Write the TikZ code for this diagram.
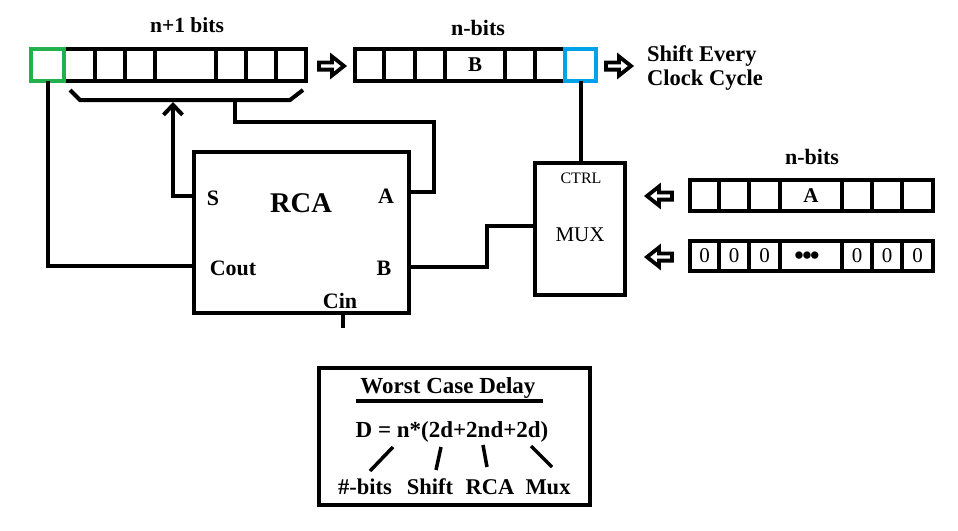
\documentclass[tikz,border=0pt]{standalone}
\usepackage{fontspec}
\setmainfont{Liberation Serif}
\usetikzlibrary{arrows.meta}
\definecolor{pgreen}{RGB}{34,177,76}
\definecolor{pblue}{RGB}{0,162,232}
\tikzset{
  cell/.style={draw, line width=4pt, minimum width=#1, inner sep=0pt, outer sep=0pt,
    font=\fontsize{21}{21}\selectfont},
  hrow/.style={minimum height=32pt},
  blk/.style={draw, line width=4pt, inner sep=0pt, outer sep=0pt},
  lbl/.style={inner sep=0pt, font=\fontsize{#1}{#1}\selectfont\bfseries},
  rlbl/.style={inner sep=0pt, font=\fontsize{#1}{#1}\selectfont},
  wire/.style={line width=4pt},
  thin/.style={line width=3.5pt},
  harrow/.pic={\draw[line width=3.8pt, fill=white, line join=miter, miter limit=10]
    (0,-3.6) -- (13,-3.6) -- (13,-9.5) -- (25,0) -- (13,9.5) -- (13,3.6) -- (0,3.6) -- cycle;}
}
\begin{document}
\begin{tikzpicture}[x=1pt,y=-1pt]
\useasboundingbox (0,0) rectangle (958,530);
% n+1 bit register
\node[cell=31pt,hrow] (r1) at (79.5,65) {};
\node[cell=30pt,hrow] (r2) at (110,65) {};
\node[cell=30pt,hrow] (r3) at (140,65) {};
\node[cell=61pt,hrow] (r4) at (185.5,65) {};
\node[cell=30pt,hrow] (r5) at (231,65) {};
\node[cell=30pt,hrow] (r6) at (261,65) {};
\node[cell=30pt,hrow] (r7) at (291,65) {};
\node[cell=33pt,hrow,draw=pgreen] (g) at (47.5,65) {};
\node[lbl=21.5] (t1) at (187,25) {n+1 bits};
% B register
\node[cell=29pt,hrow] (b1) at (369.5,65) {};
\node[cell=31pt,hrow] (b2) at (399.5,65) {};
\node[cell=30pt,hrow] (b3) at (430,65) {};
\node[cell=60pt,hrow,font=\fontsize{21}{21}\selectfont\bfseries] (b4) at (475,65) {B};
\node[cell=30pt,hrow] (b5) at (520,65) {};
\node[cell=30pt,hrow] (b6) at (550,65) {};
\node[cell=31pt,hrow,draw=pblue] (bb) at (580.5,65) {};
\node[lbl=22] (t2) at (478,28) {n-bits};
% shift arrows and text
\pic at (319,66) {harrow};
\pic at (606,66) {harrow};
\node[lbl=22.5,anchor=base west] (sh1) at (647,61) {Shift Every};
\node[lbl=22.5,anchor=base west] (sh2) at (647,85) {Clock Cycle};
% A register
\node[cell=29pt,minimum height=31pt] (a1) at (704.5,195.5) {};
\node[cell=30pt,minimum height=31pt] (a2) at (734,195.5) {};
\node[cell=31pt,minimum height=31pt] (a3) at (764.5,195.5) {};
\node[cell=62pt,minimum height=31pt,font=\fontsize{21}{21}\selectfont\bfseries] (a4) at (811,195.5) {A};
\node[cell=30pt,minimum height=31pt] (a5) at (857,195.5) {};
\node[cell=30pt,minimum height=31pt] (a6) at (887,195.5) {};
\node[cell=31pt,minimum height=31pt] (a7) at (917.5,195.5) {};
\node[lbl=22] (t3) at (812,157) {n-bits};
% zero register
\node[cell=29pt,minimum height=30pt] (z1) at (704.5,256) {0};
\node[cell=30pt,minimum height=30pt] (z2) at (734,256) {0};
\node[cell=31pt,minimum height=30pt] (z3) at (764.5,256) {0};
\node[cell=62pt,minimum height=30pt,font=\fontsize{27}{27}\selectfont\bfseries] (z4) at (811,256) {\smash{\raisebox{-8pt}{•\kern-1.5pt•\kern-1.5pt•}}\kern8pt};
\node[cell=30pt,minimum height=30pt] (z5) at (857,256) {0};
\node[cell=30pt,minimum height=30pt] (z6) at (887,256) {0};
\node[cell=31pt,minimum height=30pt] (z7) at (917.5,256) {0};
\pic[xscale=-1] at (672,196) {harrow};
\pic[xscale=-1] at (672,257) {harrow};
% RCA
\node[blk,minimum width=215pt,minimum height=161pt] (rca) at (301.5,232.5) {};
\node[lbl=28.5] (rcat) at (301,203) {RCA};
\node[lbl=22] (ls) at (213,198) {S};
\node[lbl=22] (la) at (386,196) {A};
\node[lbl=22] (lco) at (233,268) {Cout};
\node[lbl=22] (lb) at (384,268) {B};
\node[lbl=22] (lci) at (340,301) {Cin};
% MUX
\node[blk,minimum width=90pt,minimum height=132pt] (mux) at (580,229) {};
\node[rlbl=16] (ctrl) at (581,178) {CTRL};
\node[rlbl=21] (muxt) at (580,235) {MUX};
% ports
\coordinate (pS) at (rca.west |- 0,196);
\coordinate (pCo) at (rca.west |- 0,266);
\coordinate (pA) at (rca.east |- 0,192);
\coordinate (pB) at (rca.east |- 0,267);
\coordinate (pCi) at (343,328);
\coordinate (mB) at (mux.west |- 0,226);
\coordinate (brL) at (70,90);
\coordinate (brR) at (303,90);
\coordinate (brS) at (173,102);
\coordinate (brA) at (235,100);
% wires
\draw[wire] (brL) -- (80,100) -- (290,100) -- (brR);
\draw[wire,-{Straight Barb[length=10pt,width=19pt]}] (pS) -| (brS);
\draw[wire] (brA) |- (434,122) |- (pA);
\draw[wire] (g.south) |- (pCo);
\draw[wire] (pB) -| (487,226) -- (mB);
\draw[wire] (mux.north -| bb.south) -- (bb.south);
\draw[wire] (rca.south -| pCi) -- (pCi);
% worst case box
\node[blk,minimum width=271pt,minimum height=137pt] (wc) at (454.5,436.5) {};
\node[lbl=23] (wct) at (448,388) {Worst Case Delay};
\draw[thin] (356,401) -- (543,401);
\node[lbl=23] (eq) at (452,432) {D = n*(2d+2nd+2d)};
\node[lbl=22.5] (e1) at (365,487) {\#-bits};
\node[lbl=22.5] (e2) at (430,487) {Shift};
\node[lbl=22.5] (e3) at (490,487) {RCA};
\node[lbl=22.5] (e4) at (548,487) {Mux};
\draw[thin] (393,447) -- (370,471);
\draw[thin] (441,447) -- (436,470);
\draw[thin] (483,445) -- (487,467);
\draw[thin] (531,446) -- (552,467);
\end{tikzpicture}
\end{document}
